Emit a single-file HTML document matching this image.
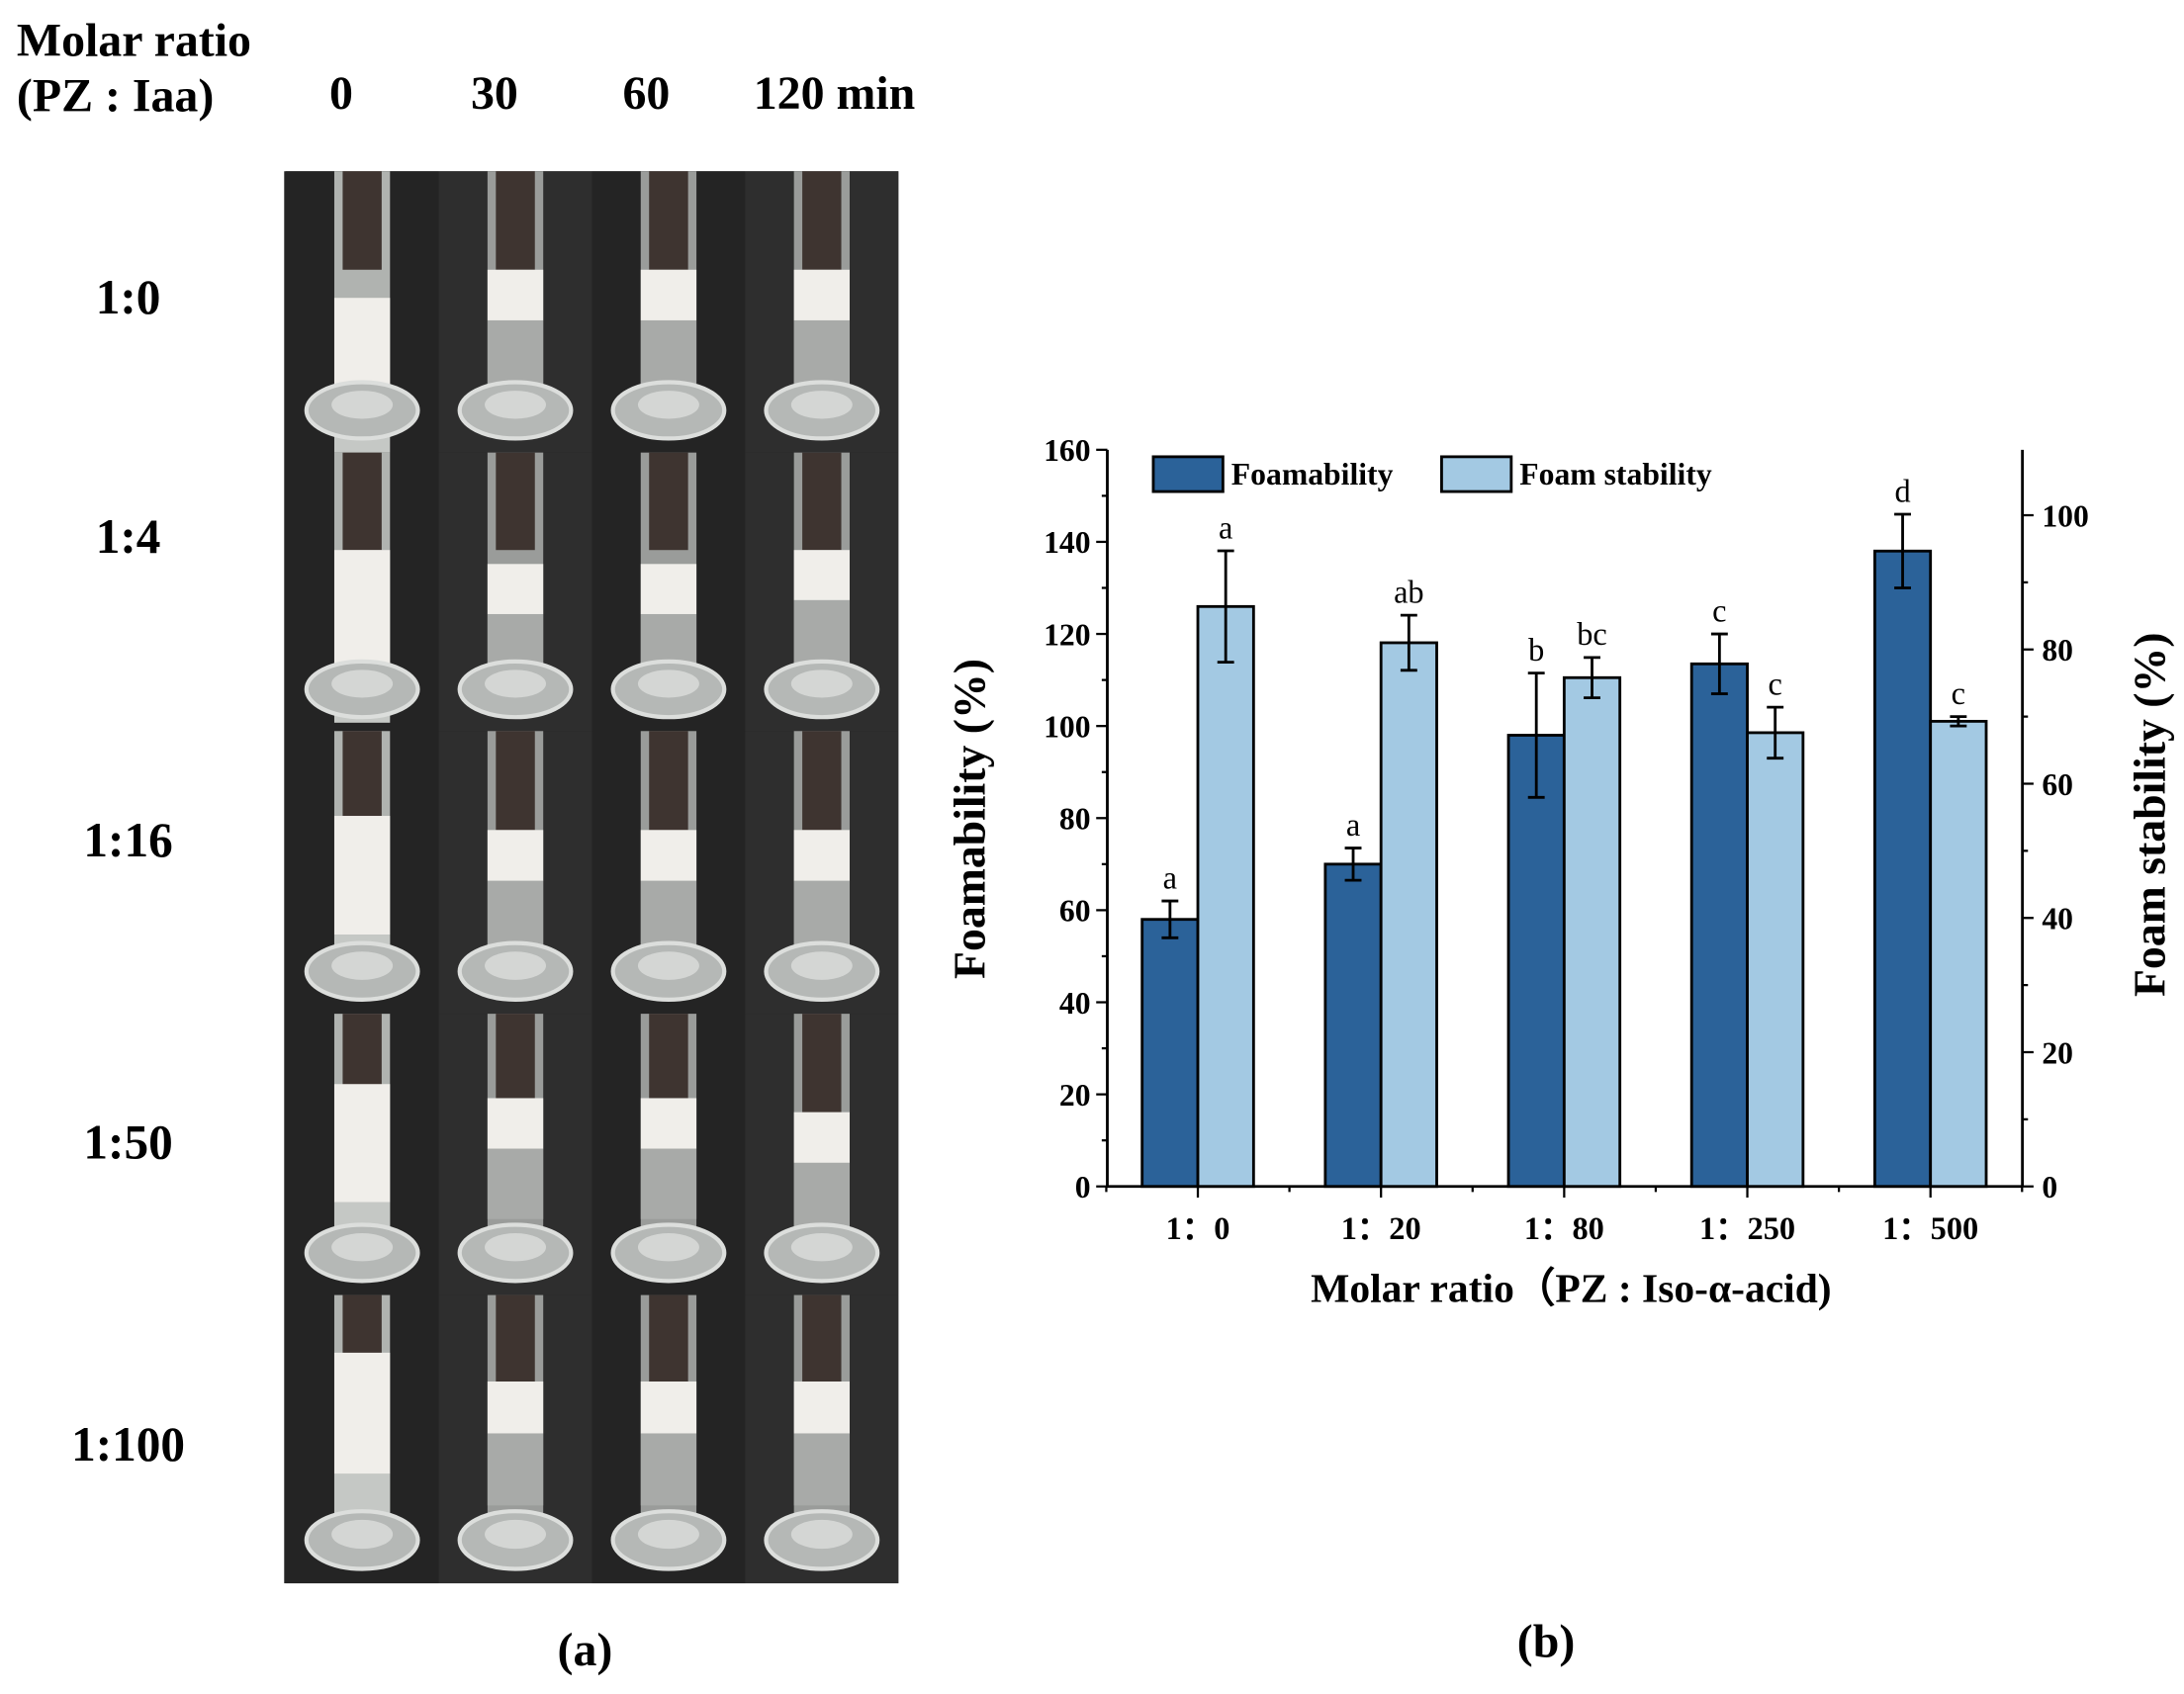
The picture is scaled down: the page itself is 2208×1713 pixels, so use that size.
<!DOCTYPE html>
<html><head><meta charset="utf-8"><style>
html,body{margin:0;padding:0;background:#fff;}
svg{display:block;font-family:"Liberation Serif",serif;}
</style></head><body>
<svg id="fig" width="2208" height="1713" viewBox="0 0 1568 1216.5" xmlns="http://www.w3.org/2000/svg">
<g id="panelA">
  <text x="12" y="40" font-size="34" font-weight="bold">Molar ratio</text>
  <text x="12" y="80" font-size="34" font-weight="bold">(PZ : Iaa)</text>
  <text x="245" y="78" font-size="34" font-weight="bold" text-anchor="middle">0</text>
  <text x="355" y="78" font-size="34" font-weight="bold" text-anchor="middle">30</text>
  <text x="464" y="78" font-size="34" font-weight="bold" text-anchor="middle">60</text>
  <text x="599" y="78" font-size="34" font-weight="bold" text-anchor="middle">120 min</text>
  <rect x="204" y="123" width="441" height="1014" fill="#262626"/>
  <g id="photos"></g>
  <text x="420" y="1196" font-size="34" font-weight="bold" text-anchor="middle">(a)</text>
</g>
<g id="chart"></g>
<text x="1110" y="1190" font-size="34" font-weight="bold" text-anchor="middle">(b)</text>
</svg>
<script>
const rowLabels = ["1:0","1:4","1:16","1:50","1:100"];
const foamTop = [[0.45,0.35,0.35,0.35],[0.35,0.4,0.4,0.35],[0.3,0.35,0.35,0.35],[0.25,0.3,0.3,0.35],[0.2,0.3,0.3,0.3]];

const categories = ["1：0","1：20","1：80","1：250","1：500"];
const foamability = [58,70,98,113.5,138];
const foamabilityErr = [4,3.5,13.5,6.5,8];
const foamStability = [86.4,81,75.8,67.6,69.3];
const foamStabilityErr = [8.3,4.1,3,3.8,0.7];
const foamabilityLetters = ["a","a","b","c","d"];
const stabilityLetters = ["a","ab","bc","c","c"];
const leftTicks = [0,20,40,60,80,100,120,140,160];
const rightTicks = [0,20,40,60,80,100];

const NS="http://www.w3.org/2000/svg";
function mk(tag,attrs,parent,text){const e=document.createElementNS(NS,tag);for(const k in attrs)e.setAttribute(k,attrs[k]);if(text!==undefined)e.textContent=text;parent.appendChild(e);return e;}

// photos
const ph=document.getElementById('photos');
const rowB=[123,325,525,728,930,1137];
const colX=[260,370,480,590];
const rowY=[213,385,603,820,1037];
for(let r=0;r<5;r++){
  const t=mk('text',{x:92,y:rowY[r]+12,'font-size':35,'font-weight':'bold','text-anchor':'middle'},ph,rowLabels[r]);
  
  
  const y0=rowB[r],y1=rowB[r+1],h=y1-y0;
  for(let c=0;c<4;c++){
    const cx=colX[c];
    const g=mk('g',{},ph);
    
    
    mk('rect',{x:cx-55,y:y0,width:110,height:h,fill:c%2?'#2e2e2e':'#242424'},g);
    mk('rect',{x:cx-20,y:y0,width:40,height:h*0.8,fill:c===0?'#b0b3b0':'#9a9c9a'},g);
    mk('rect',{x:cx-14,y:y0,width:28,height:h*0.35,fill:'#3e3430'},g);
    const ft=y0+h*foamTop[r][c];
    mk('rect',{x:cx-20,y:ft,width:40,height:h*(c===0?0.42:0.18),fill:'#f0eeea'},g);
    mk('rect',{x:cx-20,y:ft+h*(c===0?0.42:0.18),width:40,height:h*(c===0?0.2:0.25),fill:c===0?'#c5c8c5':'#a8aaa8'},g);
    mk('ellipse',{cx:cx,cy:y0+h*0.85,rx:40,ry:h*0.1,fill:'#b5b8b6',stroke:'#dcdedc','stroke-width':3},g);
    mk('ellipse',{cx:cx,cy:y0+h*0.83,rx:22,ry:h*0.05,fill:'#d4d6d4'},g);
  }
}

// chart
const ch=document.getElementById('chart');
const X0=795,X1=1452,Y0=852,YT=323;
const yL=v=>Y0-v*(Y0-YT)/160;
const yR=v=>Y0-v*(852-370)/100;
const catW=131.5, firstC=860;
const xC=i=>firstC+i*catW;
const BW=40;
mk('line',{x1:X0,y1:YT,x2:X0,y2:Y0,stroke:'#000','stroke-width':2},ch);
mk('line',{x1:X1,y1:YT,x2:X1,y2:Y0,stroke:'#000','stroke-width':2},ch);
mk('line',{x1:X0,y1:Y0,x2:X1,y2:Y0,stroke:'#000','stroke-width':2},ch);
for(let v=0;v<=160;v+=10){const y=yL(v);mk('line',{x1:X0-(v%20?4:8),y1:y,x2:X0,y2:y,stroke:'#000','stroke-width':1.6},ch);}
leftTicks.forEach(v=>{const t=mk('text',{x:X0-12,y:yL(v)+8,'font-size':22.5,'font-weight':'bold','text-anchor':'end'},ch,v);
  });
for(let v=0;v<=100;v+=10){const y=yR(v);mk('line',{x1:X1,y1:y,x2:X1+(v%20?4:8),y2:y,stroke:'#000','stroke-width':1.6},ch);}
rightTicks.forEach(v=>{const t=mk('text',{x:X1+14,y:yR(v)+8,'font-size':22.5,'font-weight':'bold'},ch,v);
  });
for(let i=0;i<categories.length;i++){
  mk('line',{x1:xC(i),y1:Y0,x2:xC(i),y2:Y0+8,stroke:'#000','stroke-width':1.6},ch);
  mk('line',{x1:xC(i)-catW/2,y1:Y0,x2:xC(i)-catW/2,y2:Y0+4,stroke:'#000','stroke-width':1.6},ch);
  const t=mk('text',{x:xC(i),y:890,'font-size':23,'font-weight':'bold','text-anchor':'middle'},ch,categories[i]);
  
}
mk('line',{x1:xC(4)+catW/2,y1:Y0,x2:xC(4)+catW/2,y2:Y0+4,stroke:'#000','stroke-width':1.6},ch);
function errbar(x,yc,yt,yb){
  mk('line',{x1:x,y1:yt,x2:x,y2:yb,stroke:'#000','stroke-width':2},ch);
  mk('line',{x1:x-6,y1:yt,x2:x+6,y2:yt,stroke:'#000','stroke-width':2},ch);
  mk('line',{x1:x-6,y1:yb,x2:x+6,y2:yb,stroke:'#000','stroke-width':2},ch);
}
for(let i=0;i<categories.length;i++){
  const x=xC(i);
  const y1=yL(foamability[i]);
  const b1=mk('rect',{x:x-BW,y:y1,width:BW,height:Y0-y1,fill:'#2b6299',stroke:'#000','stroke-width':2},ch);
  
  
  errbar(x-BW/2,y1,yL(foamability[i]+foamabilityErr[i]),yL(foamability[i]-foamabilityErr[i]));
  const l1=mk('text',{x:x-BW/2,y:yL(foamability[i]+foamabilityErr[i])-9,'font-size':23,'text-anchor':'middle'},ch,foamabilityLetters[i]);
  
  const y2=yR(foamStability[i]);
  const b2=mk('rect',{x:x,y:y2,width:BW,height:Y0-y2,fill:'#a3c9e3',stroke:'#000','stroke-width':2},ch);
  
  
  errbar(x+BW/2,y2,yR(foamStability[i]+foamStabilityErr[i]),yR(foamStability[i]-foamStabilityErr[i]));
  const l2=mk('text',{x:x+BW/2,y:yR(foamStability[i]+foamStabilityErr[i])-9,'font-size':23,'text-anchor':'middle'},ch,stabilityLetters[i]);
  
}
const lg=mk('g',{},ch);


mk('rect',{x:828,y:328,width:50,height:25,fill:'#2b6299',stroke:'#000','stroke-width':2},lg);
mk('text',{x:884,y:348,'font-size':22.5,'font-weight':'bold'},lg,'Foamability');
mk('rect',{x:1035,y:328,width:50,height:25,fill:'#a3c9e3',stroke:'#000','stroke-width':2},lg);
mk('text',{x:1091,y:348,'font-size':22.5,'font-weight':'bold'},lg,'Foam stability');
const yt=mk('text',{x:0,y:0,'font-size':32.5,'font-weight':'bold','text-anchor':'middle',transform:'translate(707,588) rotate(-90)'},ch,'Foamability (%)');

const rt=mk('text',{x:0,y:0,'font-size':32.5,'font-weight':'bold','text-anchor':'middle',transform:'translate(1554,585) rotate(-90)'},ch,'Foam stability (%)');

const xt=mk('text',{x:1128,y:935,'font-size':29.5,'font-weight':'bold','text-anchor':'middle'},ch,'Molar ratio（PZ : Iso-α-acid)');

</script>
</body></html>
